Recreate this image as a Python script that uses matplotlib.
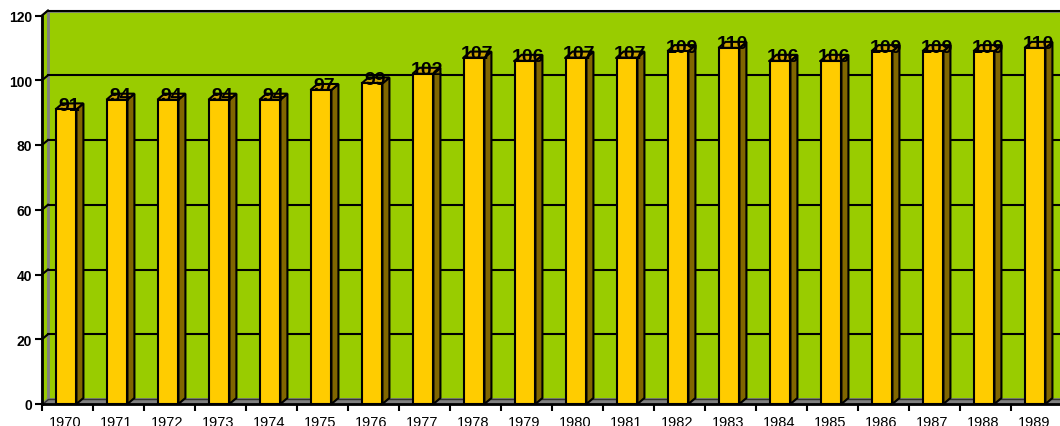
import matplotlib
matplotlib.use("Agg")
import matplotlib.pyplot as plt
from matplotlib.patches import Polygon, Rectangle

years = ["1970", "1971", "1972", "1973", "1974", "1975", "1976", "1977", "1978", "1979",
         "1980", "1981", "1982", "1983", "1984", "1985", "1986", "1987", "1988", "1989"]
values = [91, 94, 94, 94, 94, 97, 99, 102, 107, 106,
          107, 107, 109, 110, 106, 106, 109, 109, 109, 110]
yticks = [0, 20, 40, 60, 80, 100, 120]

W, H = 1060, 427
fig = plt.figure(figsize=(W / 100, H / 100), dpi=100)
fig.patch.set_facecolor("white")

ax_left, ax_bottom = 42, 22
ax_w, ax_h = 1020, 388.5
ax = fig.add_axes([ax_left / W, ax_bottom / H, ax_w / W, ax_h / H])
ax.set_xlim(0, len(years))
ax.set_ylim(0, 120)
ax.set_facecolor("none")

# depth offsets (pixels -> data units)
px_x = len(years) / ax_w
px_y = 120 / ax_h
wdx, wdy = 6 * px_x, 5 * px_y      # wall depth
bdx, bdy = 7 * px_x, 6 * px_y      # bar depth

green = "#99CC00"
grey = "#808080"

# back wall
ax.add_patch(Rectangle((wdx, wdy), len(years) + 1, 120, facecolor=green,
                       edgecolor=grey, linewidth=2, clip_on=False, zorder=0))
# side wall
ax.add_patch(Polygon([(0, 0), (0, 120), (wdx, 120 + wdy), (wdx, wdy)], closed=True,
                     facecolor=green, edgecolor=grey, linewidth=1.5, clip_on=False, zorder=0.5))
# floor
ax.add_patch(Polygon([(0, 0), (len(years) + 1, 0), (len(years) + 1, wdy), (wdx, wdy)],
                     closed=True, facecolor=grey, edgecolor="#333333", linewidth=1,
                     clip_on=False, zorder=0.6))
# gridlines on back wall and side wall
for v in yticks[1:]:
    ax.plot([wdx, len(years) + 1], [v + wdy, v + wdy], color="black", linewidth=1.5,
            clip_on=False, zorder=0.7)
    ax.plot([0, wdx], [v, v + wdy], color="black", linewidth=1.5, clip_on=False, zorder=0.7)

# bars
off, bw = 0.265, 0.41
for i, v in enumerate(values):
    x0 = i + off
    x1 = x0 + bw
    ax.add_patch(Polygon([(x1, 0), (x1 + bdx, bdy), (x1 + bdx, v + bdy), (x1, v)], closed=True,
                         facecolor="#806600", edgecolor="black", linewidth=1.5,
                         clip_on=False, zorder=2))
    ax.add_patch(Polygon([(x0, v), (x1, v), (x1 + bdx, v + bdy), (x0 + bdx, v + bdy)], closed=True,
                         facecolor="#CCA300", edgecolor="black", linewidth=1.5,
                         clip_on=False, zorder=2))
    ax.add_patch(Rectangle((x0, 0), bw, v, facecolor="#FFCC00", edgecolor="black",
                           linewidth=1.5, clip_on=False, zorder=3))
    ax.text(x0 + (bw + bdx) / 2, v - 1.4, str(v), ha="center", va="bottom",
            fontsize=14, fontweight="bold", family="Liberation Sans", color="black",
            zorder=5, clip_on=False)

# axes styling
for s in ["top", "right"]:
    ax.spines[s].set_visible(False)
for s in ["left", "bottom"]:
    ax.spines[s].set_color("black")
    ax.spines[s].set_linewidth(2)
    ax.spines[s].set_zorder(4)

ax.set_yticks(yticks)
ax.set_yticklabels([str(t) for t in yticks], fontsize=10, fontweight="bold",
                   family="Liberation Sans")
ax.tick_params(axis="y", length=5, width=1.5, pad=2, direction="out")

ax.set_xticks(range(len(years) + 1))
ax.set_xticklabels([])
ax.set_xticks([i + 0.46 for i in range(len(years))], minor=True)
ax.set_xticklabels(years, minor=True, fontsize=10.5, family="Liberation Sans")
ax.tick_params(axis="x", which="major", length=5, width=1.5, direction="out")
ax.tick_params(axis="x", which="minor", length=0, pad=8)

fig.savefig("out.png", dpi=100)
